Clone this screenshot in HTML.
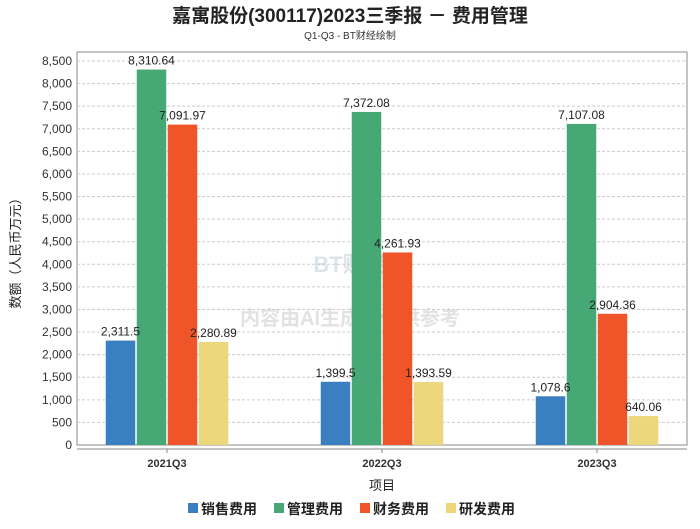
<!DOCTYPE html>
<html><head><meta charset="utf-8"><style>
body{margin:0;background:#fff;font-family:"Liberation Sans","Noto Sans CJK SC",sans-serif}
</style></head><body>
<svg width="700" height="524" xmlns="http://www.w3.org/2000/svg" style="font-family:'Liberation Sans','Noto Sans CJK SC',sans-serif">
<text x="350" y="22" text-anchor="middle" font-size="19" font-weight="bold" fill="#222">嘉寓股份(300117)2023三季报 － 费用管理</text>
<text x="350" y="39" text-anchor="middle" font-size="10" fill="#333">Q1-Q3 - BT财经绘制</text>
<rect x="77" y="52" width="610" height="393" fill="none" stroke="#888"/>
<text x="350" y="272" text-anchor="middle" font-size="22" fill="#dde3ea" font-weight="bold">BT财经</text>
<text x="350" y="325" text-anchor="middle" font-size="20" fill="#e2e2e2" font-weight="bold">内容由AI生成，仅供参考</text>
<g id="grid"></g><g id="bars"></g><g id="labels"></g>
<line x1="77" y1="449" x2="687" y2="449" stroke="#888"/>
<text x="20" y="250" transform="rotate(-90 20 250)" text-anchor="middle" font-size="13" fill="#222">数额（人民币万元）</text>
<text x="382" y="490" text-anchor="middle" font-size="13" fill="#222">项目</text>
<g id="legend"></g>
</svg>
<script>
const categories=["2021Q3","2022Q3","2023Q3"];
const seriesNames=["销售费用","管理费用","财务费用","研发费用"];
const sales=[2311.5,1399.5,1078.6];
const admin=[8310.64,7372.08,7107.08];
const finance=[7091.97,4261.93,2904.36];
const rnd=[2280.89,1393.59,640.06];
const salesLabels=["2,311.5","1,399.5","1,078.6"];
const colors=["#3a80c0","#46a874","#f0552a","#ecd77c"];
const NS="http://www.w3.org/2000/svg";
const y0=445,y1=61,vmax=8500,left=77,right=687;
const Y=v=>y0-(v/vmax)*(y0-y1);
const gw=215;
const X=i=>167+gw*i;
function mk(t,a,p){const e=document.createElementNS(NS,t);for(const k in a)e.setAttribute(k,a[k]);(p||document.getElementById('bars')).appendChild(e);return e;}
const fmt=v=>v.toLocaleString('en-US',{minimumFractionDigits:2,maximumFractionDigits:2});
const grid=document.getElementById('grid');
for(let v=0;v<=vmax;v+=500){
  if(v>0){const l=mk('line',{x1:left,x2:right,y1:Y(v),y2:Y(v),stroke:'#ccc','stroke-dasharray':'3,2'},grid);
  
  }
  const t=mk('text',{x:left-5,y:Y(v)+4,'text-anchor':'end','font-size':12,fill:'#333'},grid);
  t.textContent=v.toLocaleString('en-US');
  
  
}
const series=[sales,admin,finance,rnd];
const bw=29.5,gap=1.5;
categories.forEach((c,i)=>{
  const cx=X(i);
  const tk=mk('line',{x1:cx,x2:cx,y1:449,y2:453,stroke:'#888'},grid);
  
  
  const tl=mk('text',{x:cx,y:467,'text-anchor':'middle','font-size':11,'font-weight':'bold',fill:'#333'},grid);
  tl.textContent=c;
  
  
  series.forEach((s,j)=>{
    const x=cx-2*bw-1.5*gap+j*(bw+gap);
    const r=mk('rect',{x:x,y:Y(s[i]),width:bw,height:y0-Y(s[i]),fill:colors[j]});
    
    
    const t=mk('text',{x:x+bw/2,y:Y(s[i])-5,'text-anchor':'middle','font-size':12,fill:'#222'},document.getElementById('labels'));
    t.textContent=j===0?salesLabels[i]:fmt(s[i]);
    
    
  });
});
const lg=document.getElementById('legend');
const lx=[188,274,360,446];
seriesNames.forEach((n,j)=>{
  const r=mk('rect',{x:lx[j],y:503,width:10,height:10,fill:colors[j]},lg);
  
  
  const t=mk('text',{x:lx[j]+13,y:514,'font-size':14,fill:'#222','font-weight':'bold'},lg);
  t.textContent=n;
  
  
});
</script>
</body></html>
